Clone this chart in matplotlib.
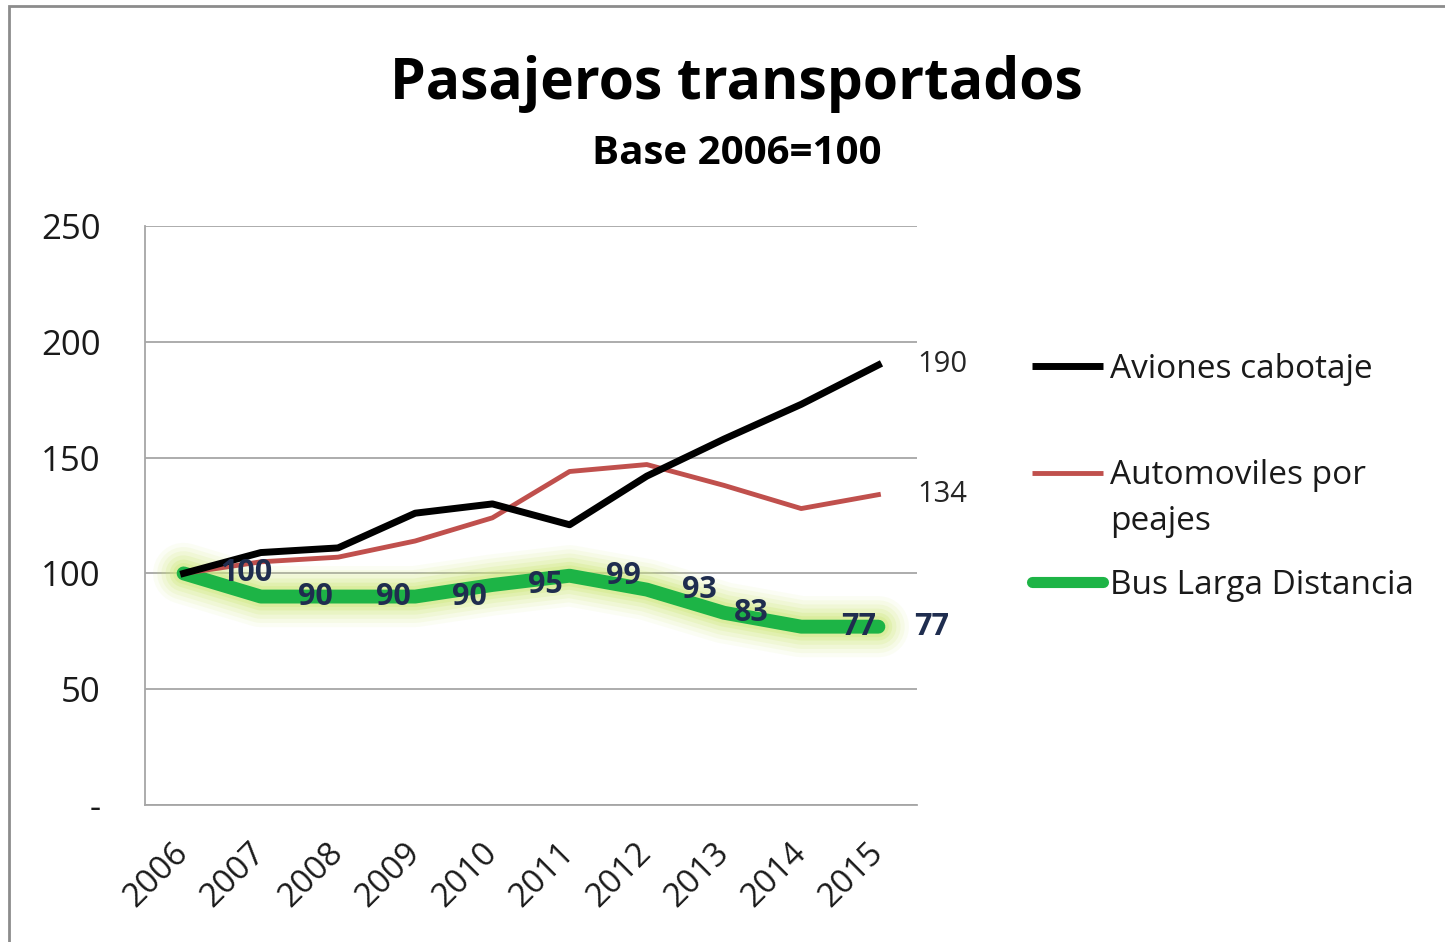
import matplotlib
matplotlib.use("Agg")
import matplotlib.pyplot as plt
from matplotlib.lines import Line2D
from matplotlib.patches import Rectangle

years = ["2006", "2007", "2008", "2009", "2010", "2011", "2012", "2013", "2014", "2015"]
aviones = [100, 109, 111, 126, 130, 121, 142, 158, 173, 190]
automoviles = [100, 105, 107, 114, 124, 144, 147, 138, 128, 134]
bus = [100, 90, 90, 90, 95, 99, 93, 83, 77, 77]
series_names = ["Aviones cabotaje", "Automoviles por\npeajes", "Bus Larga Distancia"]
yticks = [0, 50, 100, 150, 200, 250]
ytick_labels = ["-", "50", "100", "150", "200", "250"]

plt.rcParams['font.family'] = ['Open Sans', 'DejaVu Sans']

W, H = 1445, 942
fig = plt.figure(figsize=(W / 100, H / 100), dpi=100)
fig.patch.set_facecolor("white")

def fx(px):
    return px / W

def fy(py):
    return 1 - py / H

# outer chart border (clipped at right/bottom)
fig.add_artist(Rectangle((fx(9), fy(1000)), fx(2000), fy(6) - fy(1000),
                         transform=fig.transFigure, fill=False,
                         edgecolor="#8c8c8c", linewidth=2))

ax = fig.add_axes([fx(145), fy(805), fx(917) - fx(145), fy(226) - fy(805)])
x = list(range(len(years)))

ax.set_xlim(-0.5, len(years) - 0.5)
ax.set_ylim(0, 250)
ax.set_yticks(yticks)
ax.set_yticklabels(ytick_labels)
ax.yaxis.grid(True, color="#a6a6a6", linewidth=1.3)
ax.set_axisbelow(True)
for s in ["top", "right"]:
    ax.spines[s].set_visible(False)
for s in ["left", "bottom"]:
    ax.spines[s].set_color("#a6a6a6")
    ax.spines[s].set_linewidth(1.3)
ax.tick_params(axis="both", length=0)
ax.tick_params(axis="y", pad=32, labelsize=25, labelcolor="#1a1a1a")
ax.set_xticks(x)
ax.set_xticklabels(years, rotation=45, ha="right", va="center",
                   rotation_mode="anchor", fontsize=24, color="#1a1a1a")
ax.tick_params(axis="x", pad=31)

# glow for bus line
for lw, a in [(44, 0.08), (38, 0.11), (32, 0.15), (26, 0.2), (20, 0.28), (15, 0.35)]:
    ax.plot(x, bus, color="#cfe87c", linewidth=lw, alpha=a,
            solid_capstyle="round", solid_joinstyle="round", zorder=2)
ax.plot(x, bus, color="#1db446", linewidth=10, solid_capstyle="round",
        solid_joinstyle="round", zorder=3)
ax.plot(x, automoviles, color="#c0504d", linewidth=3.5, zorder=4)
ax.plot(x, aviones, color="black", linewidth=5, zorder=5)

# bus data labels
label_dx = [63, 55, 55, 54, 53, 54, 53, 27, 57]
for i in range(len(bus) - 1):
    ax.annotate(str(bus[i]), (x[i], bus[i]), xytext=(label_dx[i] * 0.72, 0),
                textcoords="offset points", ha="center", va="center",
                fontsize=22, fontweight="bold", color="#1f2d4f", zorder=6)

# end labels
ax.annotate(str(aviones[-1]), (x[-1], aviones[-1]), xytext=(28, 0),
            textcoords="offset points", ha="left", va="center",
            fontsize=21, color="#262626", annotation_clip=False)
ax.annotate(str(automoviles[-1]), (x[-1], automoviles[-1]), xytext=(28, 0),
            textcoords="offset points", ha="left", va="center",
            fontsize=21, color="#262626", annotation_clip=False)
ax.annotate(str(bus[-1]), (x[-1], bus[-1]), xytext=(26, 0),
            textcoords="offset points", ha="left", va="center",
            fontsize=22, fontweight="bold", color="#1f2d4f", annotation_clip=False)

# titles
fig.text(fx(736), fy(84), "Pasajeros transportados", ha="center", va="center",
         fontsize=41, fontweight="bold", color="black")
fig.text(fx(737), fy(153), "Base 2006=100", ha="center", va="center",
         fontsize=29, fontweight="bold", color="black")

# legend
leg = [
    (series_names[0], "black", 5, 366, "butt"),
    (series_names[1], "#c0504d", 3.5, 473, "butt"),
    (series_names[2], "#1db446", 8, 582, "round"),
]
for name, col, lw, py, cap in leg:
    fig.add_artist(Line2D([fx(1032), fx(1103)], [fy(py), fy(py)],
                          transform=fig.transFigure, color=col, linewidth=lw,
                          solid_capstyle=cap))
    for j, line in enumerate(name.split("\n")):
        fig.text(fx(1110), fy(py + 3 + 46 * j), line, ha="left", va="center",
                 fontsize=24, color="#1a1a1a")

fig.savefig("out.png", dpi=100)
